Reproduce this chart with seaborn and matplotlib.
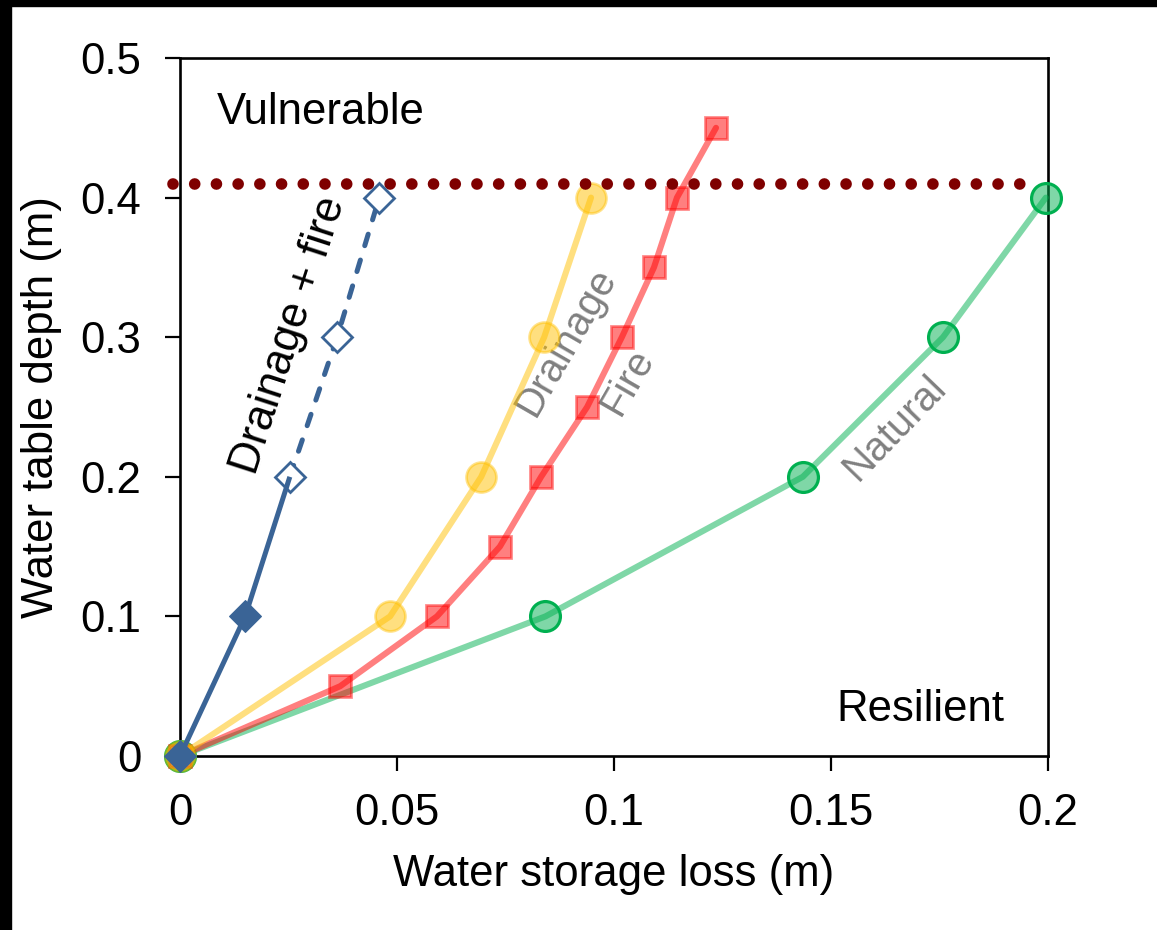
import numpy as np
import pandas as pd
import matplotlib
matplotlib.use("Agg")
import matplotlib.pyplot as plt
from matplotlib.patches import Rectangle
from matplotlib.ticker import FuncFormatter
import seaborn as sns

# Water storage loss (m) against water table depth (m) for each peatland condition
natural_loss = [0.0, 0.0842, 0.1435, 0.1758, 0.1995]
natural_depth = [0.0, 0.1, 0.2, 0.3, 0.4]

drainage_loss = [0.0, 0.0484, 0.0694, 0.0839, 0.0947]
drainage_depth = [0.0, 0.1, 0.2, 0.3, 0.4]

fire_loss = [0.0, 0.0369, 0.0592, 0.0737, 0.0832, 0.0938, 0.1018, 0.1092, 0.1145, 0.1235]
fire_depth = [0.0, 0.05, 0.1, 0.15, 0.2, 0.25, 0.3, 0.35, 0.4, 0.45]

# Drainage + fire: measured part (solid) and extrapolated part (dashed)
drainfire_loss = [0.0, 0.015, 0.0253]
drainfire_depth = [0.0, 0.1, 0.2]
drainfire_ext_loss = [0.0253, 0.0362, 0.0459]
drainfire_ext_depth = [0.2, 0.3, 0.4]

threshold_depth = 0.41

x_ticks = [0, 0.05, 0.1, 0.15, 0.2]
y_ticks = [0, 0.1, 0.2, 0.3, 0.4, 0.5]

sns.set_theme(style="ticks")
plt.rcParams["font.family"] = ["Liberation Sans", "DejaVu Sans"]
plt.rcParams["text.color"] = "black"
plt.rcParams["axes.labelcolor"] = "black"

FS = 31.5

fig = plt.figure(figsize=(11.57, 9.30), dpi=100)
ax = fig.add_axes([0.1556, 0.1871, 0.7502, 0.7505])

GREEN = "#00b050"
RED = "#ff0000"
YELLOW = "#ffc000"
BLUE = "#3a6496"


def rgba(c, a):
    r, g, b = matplotlib.colors.to_rgb(c)
    return (r, g, b, a)


def series(x, y, **kw):
    df = pd.DataFrame({"loss": x, "depth": y})
    sns.lineplot(data=df, x="loss", y="depth", ax=ax, sort=False,
                 estimator=None, clip_on=False, **kw)


series(natural_loss, natural_depth, color=rgba(GREEN, 0.5), lw=4.4,
       marker="o", markersize=21.5, markerfacecolor=rgba(GREEN, 0.5),
       markeredgecolor=GREEN, markeredgewidth=2.3, zorder=3)
series(fire_loss, fire_depth, color=rgba(RED, 0.5), lw=4.4,
       marker="s", markersize=16.5, markerfacecolor=rgba(RED, 0.5),
       markeredgecolor=rgba(RED, 0.45), markeredgewidth=2.0, zorder=4)
series(drainage_loss, drainage_depth, color=rgba(YELLOW, 0.5), lw=4.4,
       marker="o", markersize=21.5, markerfacecolor=rgba(YELLOW, 0.5),
       markeredgecolor=rgba(YELLOW, 0.45), markeredgewidth=2.0, zorder=4)

# Threshold between resilient and vulnerable states
ax.plot([-0.0017, 0.1945], [threshold_depth, threshold_depth], color="#7f0000",
        lw=8.4, linestyle=(0, (0.001, 1.86)), dash_capstyle="round",
        clip_on=False, zorder=5)

series(drainfire_ext_loss, drainfire_ext_depth, color=BLUE, lw=3.6,
       linestyle=(0, (2.4, 3.0)), dash_capstyle="round", marker="D",
       markersize=15.5, markerfacecolor="white", markeredgecolor=BLUE,
       markeredgewidth=2.0, zorder=6)
series(drainfire_loss[:2], drainfire_depth[:2], color=BLUE, lw=3.6,
       marker="D", markersize=16.5, markerfacecolor=BLUE, markeredgecolor=BLUE,
       zorder=7)
ax.plot(drainfire_loss[1:], drainfire_depth[1:], color=BLUE, lw=3.6,
        solid_capstyle="butt", zorder=6)

ax.set_xlim(0, 0.2)
ax.set_ylim(0, 0.5)
ax.set_xticks(x_ticks)
ax.set_yticks(y_ticks)
fmt = FuncFormatter(lambda v, p: f"{v:g}")
ax.xaxis.set_major_formatter(fmt)
ax.yaxis.set_major_formatter(fmt)
ax.tick_params(axis="both", direction="out", length=11, width=1.6,
               labelsize=FS, colors="black")
ax.tick_params(axis="y", pad=17)
ax.tick_params(axis="x", pad=16)
for s in ax.spines.values():
    s.set_visible(True)
    s.set_linewidth(1.9)
    s.set_color("black")

ax.set_xlabel("Water storage loss (m)", fontsize=FS, labelpad=14)
ax.set_ylabel("Water table depth (m)", fontsize=FS, labelpad=13)

ax.text(0.0085, 0.461, "Vulnerable", fontsize=FS, ha="left", va="center")
ax.text(0.190, 0.033, "Resilient", fontsize=FS, ha="right", va="center")
ax.text(0.0251, 0.3016, "Drainage + fire", fontsize=FS, rotation=72,
        ha="center", va="center", rotation_mode="anchor")
ax.text(0.0889, 0.297, "Drainage", fontsize=29, color="#808080", rotation=60,
        ha="center", va="center", rotation_mode="anchor")
ax.text(0.1032, 0.268, "Fire", fontsize=29, color="#808080", rotation=60,
        ha="center", va="center", rotation_mode="anchor")
ax.text(0.1647, 0.235, "Natural", fontsize=29, color="#808080", rotation=46,
        ha="center", va="center", rotation_mode="anchor")

# Dark frame along the top and left edges
fig.patches.append(Rectangle((0, 0), 11 / 1157, 1, transform=fig.transFigure,
                             color="black", zorder=10))
fig.patches.append(Rectangle((0, 1 - 6 / 930), 1, 6 / 930,
                             transform=fig.transFigure, color="black", zorder=10))

fig.savefig("out.png", dpi=100, facecolor="white")
